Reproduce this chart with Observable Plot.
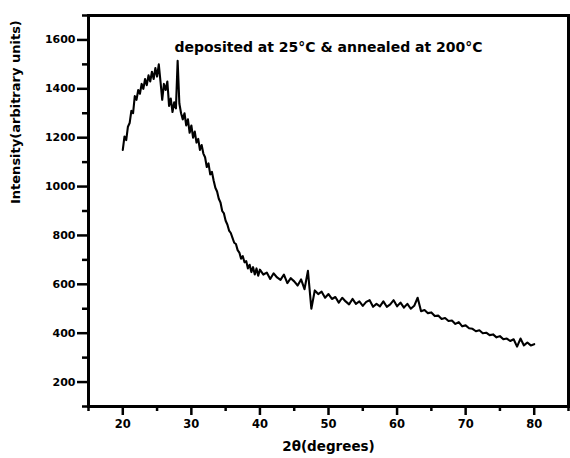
<!DOCTYPE html>
<html>
<head>
<meta charset="utf-8">
<script src="https://cdn.jsdelivr.net/npm/d3@7"></script>
<script src="https://cdn.jsdelivr.net/npm/@observablehq/plot@0.6"></script>
<style>
  html, body { margin: 0; padding: 0; background: #fff; }
</style>
</head>
<body>
<div id="chart"></div>
<script>
const twoTheta = [
  20.00, 20.25, 20.50, 20.75, 21.00, 21.25, 21.50, 21.75, 22.00, 22.25,
  22.50, 22.75, 23.00, 23.25, 23.50, 23.75, 24.00, 24.25, 24.50, 24.75,
  25.00, 25.25, 25.50, 25.75, 26.00, 26.25, 26.50, 26.75, 27.00, 27.25,
  27.50, 27.75, 28.00, 28.25, 28.50, 28.75, 29.00, 29.25, 29.50, 29.75,
  30.00, 30.25, 30.50, 30.75, 31.00, 31.25, 31.50, 31.75, 32.00, 32.25,
  32.50, 32.75, 33.00, 33.25, 33.50, 33.75, 34.00, 34.25, 34.50, 34.75,
  35.00, 35.25, 35.50, 35.75, 36.00, 36.25, 36.50, 36.75, 37.00, 37.25,
  37.50, 37.75, 38.00, 38.25, 38.50, 38.75, 39.00, 39.25, 39.50, 39.75,
  40.00, 40.5, 41.0, 41.5, 42.0, 42.5, 43.0, 43.5, 44.0, 44.5,
  45.0, 45.5, 46.0, 46.5, 47.0, 47.5, 48.0, 48.5, 49.0, 49.5,
  50.0, 50.5, 51.0, 51.5, 52.0, 52.5, 53.0, 53.5, 54.0, 54.5,
  55.0, 55.5, 56.0, 56.5, 57.0, 57.5, 58.0, 58.5, 59.0, 59.5,
  60.0, 60.5, 61.0, 61.5, 62.0, 62.5, 63.0, 63.5, 64.0, 64.5,
  65.0, 65.5, 66.0, 66.5, 67.0, 67.5, 68.0, 68.5, 69.0, 69.5,
  70.0, 70.5, 71.0, 71.5, 72.0, 72.5, 73.0, 73.5, 74.0, 74.5,
  75.0, 75.5, 76.0, 76.5, 77.0, 77.5, 78.0, 78.5, 79.0, 79.5,
  80.0
];
const intensity = [
  1150, 1205, 1190, 1245, 1260, 1310, 1300, 1370, 1355, 1395,
  1380, 1420, 1400, 1440, 1415, 1455, 1430, 1470, 1440, 1485,
  1450, 1500, 1430, 1355, 1420, 1395, 1430, 1330, 1360, 1305,
  1345, 1320, 1515, 1340, 1300, 1275, 1300, 1250, 1275, 1220,
  1250, 1200, 1225, 1180, 1195, 1150, 1170, 1135, 1120, 1080,
  1095, 1050, 1060, 1025, 995, 980, 950, 935, 900, 890,
  860, 845, 820, 810, 790, 770, 765, 740, 730, 705,
  715, 690, 695, 665, 680, 650, 670, 640, 665, 635,
  660, 640, 648, 622, 645, 628, 618, 640, 605, 625,
  612, 595, 620, 580, 655, 500, 575, 560, 570, 545,
  560, 540, 548, 525, 545, 530, 518, 540, 520, 530,
  512, 528, 535, 508, 520, 510, 530, 508, 518, 535,
  510, 525, 505, 520, 500, 512, 545, 490, 495, 482,
  485, 470, 472, 458, 462, 450, 452, 438, 445, 428,
  432, 420, 418, 408, 412, 400, 402, 392, 395, 383,
  388, 375, 378, 368, 375, 345, 378, 350, 362, 350,
  355
];
const xMajorTicks = [20, 30, 40, 50, 60, 70, 80];
const xMinorTicks = [15, 25, 35, 45, 55, 65, 75, 85];
const yMajorTicks = [200, 400, 600, 800, 1000, 1200, 1400, 1600];
const yMinorTicks = [100, 300, 500, 700, 900, 1100, 1300, 1500, 1700];
const xDomain = [15, 85];
const yDomain = [100, 1700];
const titleText = ["deposited at 25°C & annealed at 200°C"];
const xLabel = ["2θ(degrees)"];
const yLabel = ["Intensity(arbitrary units)"];

const rows = twoTheta.map((t, i) => ({t, v: intensity[i]}));

const font = "DejaVu Sans, Liberation Sans, Arial, sans-serif";

const chart = Plot.plot({
  width: 570,
  height: 458,
  marginLeft: 88,
  marginRight: 2,
  marginTop: 15,
  marginBottom: 52,
  style: {fontFamily: font, fontWeight: "bold", background: "#fff", color: "#000"},
  x: {domain: xDomain, label: null},
  y: {domain: yDomain, label: null},
  marks: [
    Plot.line(rows, {x: "t", y: "v", stroke: "#000", strokeWidth: 2.1}),
    Plot.axisX({ticks: xMinorTicks, tickSize: 5, strokeWidth: 2.5, tickFormat: () => "", label: null}),
    Plot.axisX({ticks: xMajorTicks, tickSize: 9, tickPadding: 4, strokeWidth: 2.5, fontSize: 11.5, fontWeight: "bold", label: null}),
    Plot.axisY({ticks: yMinorTicks, tickSize: 6, strokeWidth: 2.5, tickFormat: () => "", label: null}),
    Plot.axisY({ticks: yMajorTicks, tickSize: 11, tickPadding: 2, strokeWidth: 2.5, fontSize: 11, fontWeight: "bold", tickFormat: d => String(d), label: null}),
    Plot.frame({stroke: "#000", strokeWidth: 3}),
    Plot.text(titleText, {text: d => d, frameAnchor: "top", dy: 27, fontSize: 14, fontWeight: "bold", fill: "#000"}),
    Plot.text(xLabel, {text: d => d, frameAnchor: "bottom", dy: 44, fontSize: 13.5, fontWeight: "bold", fill: "#000"}),
    Plot.text(yLabel, {text: d => d, frameAnchor: "left", dx: -73, dy: -7, rotate: -90, fontSize: 13, fontWeight: "bold", fill: "#000"})
  ]
});
document.getElementById("chart").appendChild(chart);
</script>
</body>
</html>
